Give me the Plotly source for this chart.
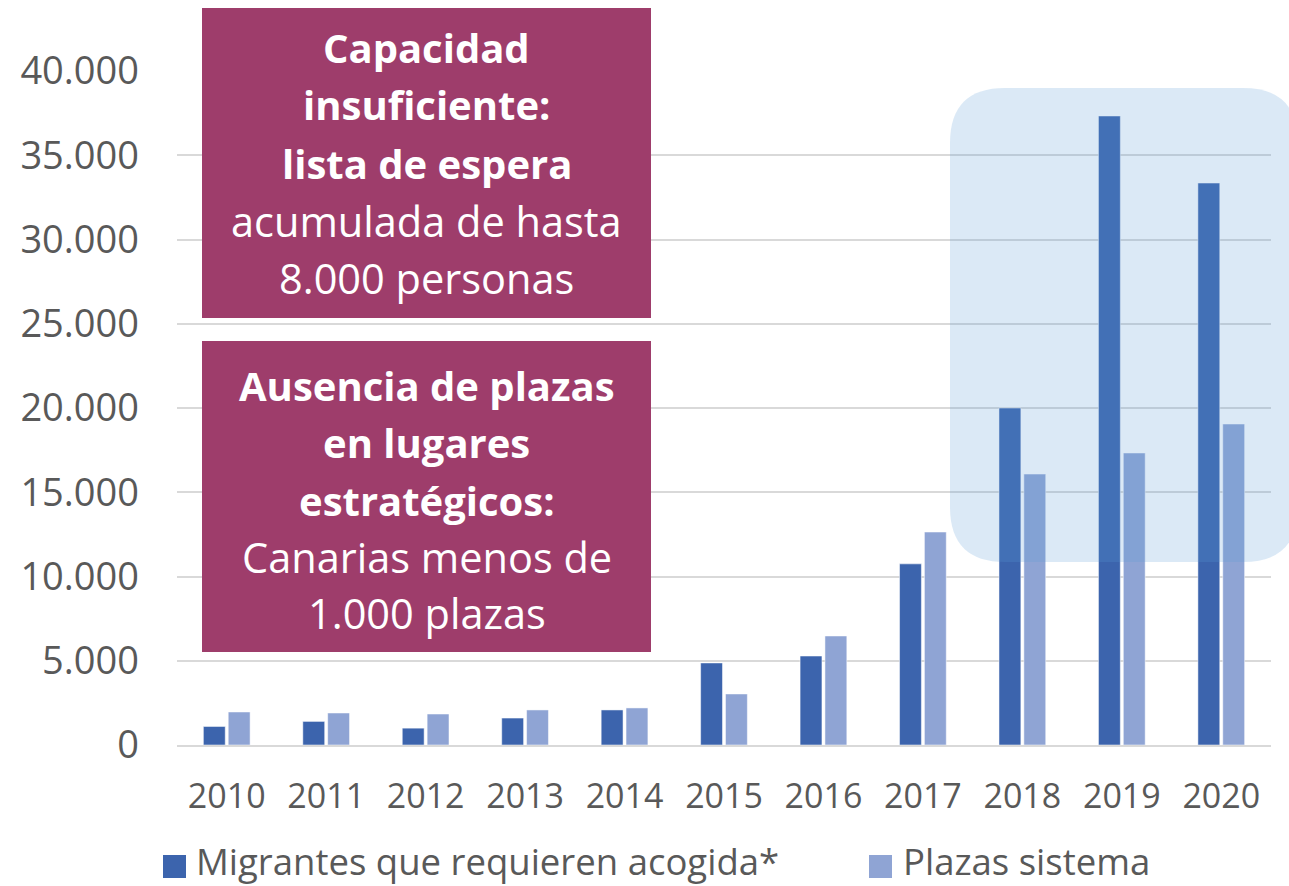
import plotly.graph_objects as go

# ---- data ----
years = ["2010", "2011", "2012", "2013", "2014", "2015", "2016", "2017", "2018", "2019", "2020"]
migrantes = [1100, 1400, 1000, 1600, 2080, 4870, 5280, 10750, 20000, 37330, 33350]
plazas = [1960, 1900, 1840, 2080, 2200, 3030, 6470, 12640, 16080, 17330, 19050]
series_names = ["Migrantes que requieren acogida*", "Plazas sistema"]
y_ticks = [0, 5000, 10000, 15000, 20000, 25000, 30000, 35000, 40000]

box1_lines = [("Capacidad", True), ("insuficiente:", True), ("lista de espera", True),
              ("acumulada de hasta", False), ("8.000 personas", False)]
box2_lines = [("Ausencia de plazas", True), ("en lugares", True), ("estratégicos:", True),
              ("Canarias menos de", False), ("1.000 plazas", False)]

DARK = "#3C64AD"
LIGHT = "#8FA4D4"
PURPLE = "#9E3D6B"
GREY = "#595959"
FONT = "Open Sans"

W, H = 1289, 886
ML, MR, MT, MB = 177, 18, 71, 141
PW, PH = W - ML - MR, H - MT - MB


def px_x(px):
    return (px - ML) / PW


def px_y(py):
    return (H - MB - py) / PH


fig = go.Figure()
fig.add_trace(go.Bar(x=years, y=migrantes, name=series_names[0], marker_color=DARK,
                     marker_line=dict(color="rgba(255,255,255,0.5)", width=1), showlegend=False))
fig.add_trace(go.Bar(x=years, y=plazas, name=series_names[1], marker_color=LIGHT,
                     marker_line=dict(color="rgba(255,255,255,0.5)", width=1), showlegend=False))

shapes = []
annotations = []

# highlight rounded box
x0, x1 = px_x(950), px_x(1298)
y0, y1 = px_y(562), px_y(88)
rx, ry = 55 / PW, 55 / PH
path = (f"M {x0+rx},{y1} L {x1-rx},{y1} Q {x1},{y1} {x1},{y1-ry} "
        f"L {x1},{y0+ry} Q {x1},{y0} {x1-rx},{y0} L {x0+rx},{y0} "
        f"Q {x0},{y0} {x0},{y0+ry} L {x0},{y1-ry} Q {x0},{y1} {x0+rx},{y1} Z")
shapes.append(dict(type="path", xref="paper", yref="paper", path=path,
                   fillcolor="rgba(91,155,213,0.22)", line=dict(width=0), layer="above"))

# purple boxes
for (top, bot) in [(8, 318), (341, 652)]:
    shapes.append(dict(type="rect", xref="paper", yref="paper",
                       x0=px_x(202), x1=px_x(651), y0=px_y(bot), y1=px_y(top),
                       fillcolor=PURPLE, line=dict(width=0), layer="above"))

cx = px_x(426.5)
for lines, centers in [(box1_lines, [48, 105, 163, 221, 278]),
                       (box2_lines, [385, 442, 500, 557, 613])]:
    for (txt, bold), cy in zip(lines, centers):
        annotations.append(dict(xref="paper", yref="paper", x=cx, y=px_y(cy),
                                text=f"<b>{txt}</b>" if bold else txt,
                                showarrow=False, xanchor="center", yanchor="middle",
                                font=dict(family=FONT, size=40 if bold else 41.5, color="white")))

# manual legend
leg = [(163, 195, DARK, series_names[0]), (869, 902, LIGHT, series_names[1])]
for sq_x, tx, col, name in leg:
    shapes.append(dict(type="rect", xref="paper", yref="paper",
                       x0=px_x(sq_x), x1=px_x(sq_x + 23), y0=px_y(878), y1=px_y(855),
                       fillcolor=col, line=dict(width=0)))
    annotations.append(dict(xref="paper", yref="paper", x=px_x(tx), y=px_y(861),
                            text=name, showarrow=False, xanchor="left", yanchor="middle",
                            borderpad=0,
                            font=dict(family=FONT, size=36.5, color=GREY)))

fig.update_layout(
    width=W, height=H,
    margin=dict(l=ML, r=MR, t=MT, b=MB, pad=0),
    paper_bgcolor="white", plot_bgcolor="white",
    barmode="group", bargap=0.5, bargroupgap=0.12,
    separators=",.",
    font=dict(family=FONT, color=GREY),
    shapes=shapes, annotations=annotations,
    showlegend=False,
)
fig.update_yaxes(range=[0, 40000], tickvals=y_ticks, tickformat=",d",
                 showgrid=True, gridcolor="#D9D9D9", gridwidth=1.5,
                 zeroline=False, showline=False, ticks="",
                 tickfont=dict(family=FONT, size=38, color=GREY),
                 ticklabelstandoff=37)
fig.update_xaxes(showgrid=False, showline=True, linecolor="#D9D9D9", linewidth=1.5,
                 ticks="", tickfont=dict(family=FONT, size=34, color=GREY),
                 ticklabelstandoff=20)

fig.write_html("out.html", config={"displayModeBar": False},
               post_script="document.body.style.margin='0';document.body.style.overflow='hidden';")
